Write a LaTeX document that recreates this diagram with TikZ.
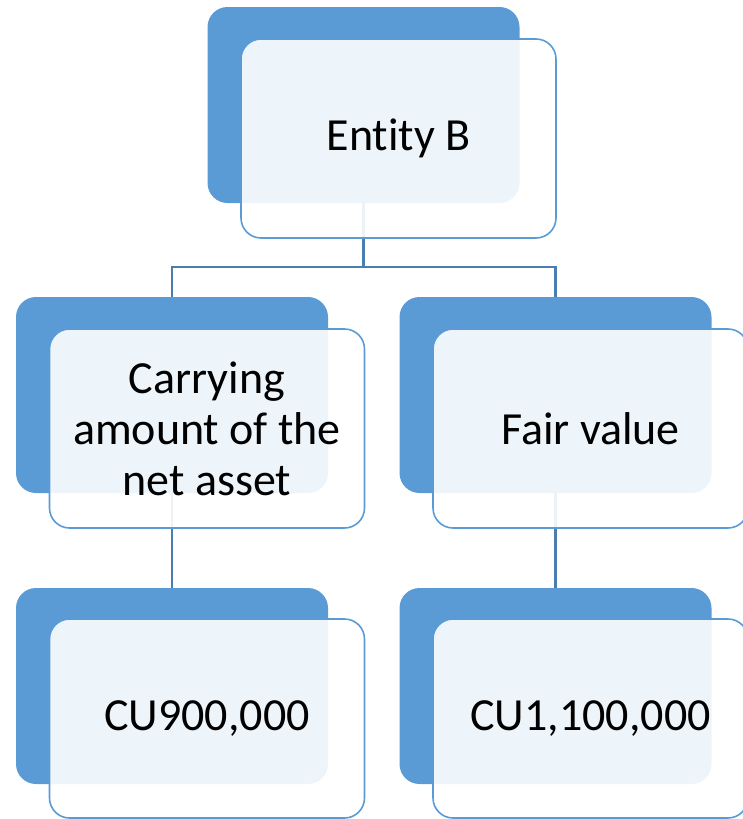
\documentclass[tikz,border=0pt]{standalone}
\usepackage{fontspec}
\setmainfont{Carlito}[Ligatures=NoCommon]
\usetikzlibrary{backgrounds}
\definecolor{accent}{HTML}{5B9BD5}
\definecolor{linkblue}{HTML}{4A7DB0}
\tikzset{
  backcard/.style={draw=none, fill=accent, rounded corners=20pt,
    minimum width=312pt, minimum height=196pt, inner sep=0pt},
  frontcard/.style={draw=accent, line width=1.6pt, fill=white, fill opacity=0.9,
    text opacity=1, rounded corners=20pt, minimum width=315pt, minimum height=199pt,
    inner sep=0pt, align=center,
    font=\fontsize{46}{51}\selectfont},
  link/.style={draw=linkblue, line width=2.2pt}
}
\begin{document}
\begin{tikzpicture}[x=1pt,y=-1pt]
  \useasboundingbox (0,0) rectangle (742,819);
  % top card
  \node[backcard] (topback) at (363.5,105) {};
  \node[frontcard] (top) at (398.5,138.5) {Entity B};
  % middle row
  \node[backcard] (lback) at (172,395) {};
  \node[frontcard] (left) at (207,428.5) {Carrying\\amount of the\\net asset};
  \node[backcard] (rback) at (555.5,395) {};
  \node[frontcard] (right) at (590.5,428.5) {Fair value};
  % bottom row
  \node[backcard] (lbback) at (172,686) {};
  \node[frontcard] (lbottom) at (207,718.5) {CU900,000};
  \node[backcard] (rbback) at (555.5,686) {};
  \node[frontcard] (rbottom) at (590.5,718.5) {CU1,100,000};
  % connectors behind the cards
  \begin{scope}[on background layer]
    \coordinate (bus) at (363.5,267);
    \draw[link] (topback.center) -- (bus);
    \draw[link] (bus) -| (lback.north);
    \draw[link] (bus) -| (rback.north);
    \draw[link] (lback.center) -- (lbback.north);
    \draw[link] (rback.center) -- (rbback.north);
  \end{scope}
\end{tikzpicture}
\end{document}
